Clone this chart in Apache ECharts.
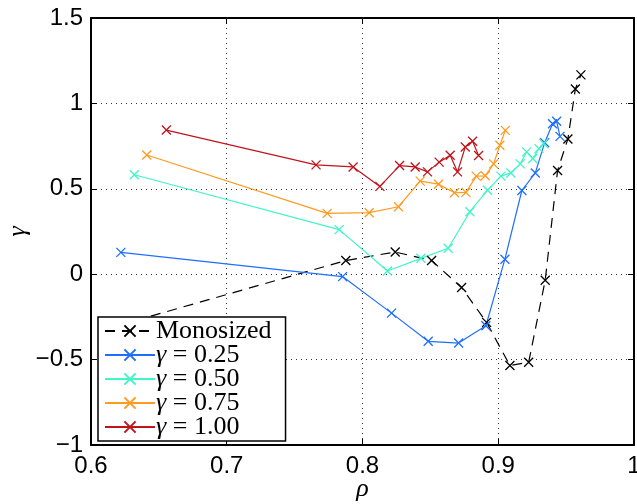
<!DOCTYPE html>
<html>
<head>
<meta charset="utf-8">
<title>γ versus ρ</title>
<script src="https://cdn.jsdelivr.net/npm/echarts@6/dist/echarts.min.js"></script>
<style>
  html, body { margin: 0; padding: 0; background: #fff; }
  #chart { width: 637px; height: 504px; }
</style>
</head>
<body>
<div id="chart"></div>
<script>
// Packing fraction rho (x) against gamma (y) for each run
const seriesNames = ['Monosized', 'γ = 0.25', 'γ = 0.50', 'γ = 0.75', 'γ = 1.00'];
const seriesColors = ['#000000', '#1e6eff', '#40f5c8', '#ff9a20', '#c0141c'];

const monosized = [
  [0.620, -0.300], [0.7877, 0.080], [0.8241, 0.130], [0.8509, 0.080],
  [0.8730, -0.078], [0.8914, -0.282], [0.9086, -0.535], [0.9224, -0.516],
  [0.9346, -0.035], [0.9437, 0.607], [0.9513, 0.792], [0.9568, 1.084],
  [0.9609, 1.167]
];
const gamma025 = [
  [0.6220, 0.128], [0.7853, -0.014], [0.8214, -0.228], [0.8484, -0.393],
  [0.8708, -0.403], [0.8909, -0.302], [0.9049, 0.088], [0.9174, 0.490],
  [0.9273, 0.593], [0.9342, 0.770], [0.9400, 0.881], [0.9430, 0.895],
  [0.9455, 0.807]
];
const gamma050 = [
  [0.6319, 0.582], [0.7828, 0.261], [0.8184, 0.019], [0.8430, 0.093],
  [0.8631, 0.152], [0.8791, 0.366], [0.8921, 0.492], [0.9020, 0.574],
  [0.9093, 0.593], [0.9162, 0.646], [0.9209, 0.716], [0.9254, 0.677],
  [0.9300, 0.735], [0.9335, 0.765]
];
const gamma075 = [
  [0.6411, 0.698], [0.7740, 0.356], [0.8049, 0.360], [0.8265, 0.395],
  [0.8425, 0.545], [0.8560, 0.527], [0.8678, 0.477], [0.8762, 0.479],
  [0.8838, 0.574], [0.8904, 0.576], [0.8966, 0.646], [0.9012, 0.755],
  [0.9052, 0.842]
];
const gamma100 = [
  [0.6555, 0.844], [0.7658, 0.640], [0.7931, 0.628], [0.8128, 0.514],
  [0.8273, 0.636], [0.8388, 0.628], [0.8479, 0.599], [0.8565, 0.656],
  [0.8646, 0.696], [0.8700, 0.599], [0.8757, 0.745], [0.8811, 0.778],
  [0.8855, 0.695]
];

// Axis ticks
const xTickLabels = ['0.6', '0.7', '0.8', '0.9', '1'];
const yTickLabels = ['−1', '−0.5', '0', '0.5', '1', '1.5'];
const xMin = 0.6, xMax = 1.0, xStep = 0.1;
const yMin = -1, yMax = 1.5, yStep = 0.5;

const allData = [monosized, gamma025, gamma050, gamma075, gamma100];

const crossSymbol = 'path://M0,0L10,10M10,0L0,10';
const tickFont = { fontFamily: 'Liberation Sans, Arial, sans-serif', fontSize: 24, color: '#000' };
const serif = 'Liberation Serif, DejaVu Serif, serif';

function tickFormatter(labels, min, step) {
  return function (v) {
    const i = Math.round((v - min) / step);
    return labels[i] !== undefined ? labels[i] : '';
  };
}

const boxLine = { show: true, onZero: false, lineStyle: { color: '#000', width: 2 } };
const inTick = { show: true, inside: true, length: 6, lineStyle: { color: '#000', width: 1 } };
const dotted = { show: true, lineStyle: { color: '#333', width: 1, type: [1, 4] } };

const series = allData.map(function (d, i) {
  return {
    name: seriesNames[i],
    type: 'line',
    data: d,
    symbol: crossSymbol,
    symbolSize: 9,
    showSymbol: true,
    z: 2,
    lineStyle: {
      color: seriesColors[i],
      width: 1.2,
      type: i === 0 ? [10, 7] : 'solid'
    },
    itemStyle: {
      color: seriesColors[i],
      borderColor: seriesColors[i],
      borderWidth: 1.3
    },
    emphasis: { disabled: true },
    animation: false
  };
});

const chart = echarts.init(document.getElementById('chart'), null, { renderer: 'canvas' });
chart.setOption({
  backgroundColor: '#fff',
  animation: false,
  grid: { left: 91, right: 3, top: 18, bottom: 59, containLabel: false, outerBoundsMode: 'none' },
  xAxis: [
    {
      type: 'value', min: xMin, max: xMax, interval: xStep, position: 'bottom',
      axisLine: boxLine, axisTick: inTick, splitLine: dotted,
      axisLabel: Object.assign({ margin: 9, formatter: tickFormatter(xTickLabels, xMin, xStep) }, tickFont),
      name: 'ρ', nameLocation: 'middle', nameGap: 31, nameMoveOverlap: false,
      nameTextStyle: { fontFamily: serif, fontStyle: 'italic', fontSize: 26, color: '#000' }
    },
    {
      type: 'value', min: xMin, max: xMax, interval: xStep, position: 'top',
      axisLine: boxLine, axisTick: inTick, splitLine: { show: false }, axisLabel: { show: false }
    }
  ],
  yAxis: [
    {
      type: 'value', min: yMin, max: yMax, interval: yStep, position: 'left',
      axisLine: boxLine, axisTick: inTick, splitLine: dotted,
      axisLabel: Object.assign({ margin: 8, formatter: tickFormatter(yTickLabels, yMin, yStep) }, tickFont),
      name: 'γ', nameLocation: 'middle', nameGap: 60, nameRotate: 90, nameMoveOverlap: false,
      nameTextStyle: { fontFamily: serif, fontStyle: 'italic', fontSize: 26, color: '#000' }
    },
    {
      type: 'value', min: yMin, max: yMax, interval: yStep, position: 'right',
      axisLine: boxLine, axisTick: inTick, splitLine: { show: false }, axisLabel: { show: false }
    }
  ],
  legend: {
    orient: 'vertical',
    left: 98, top: 317,
    z: 10,
    itemWidth: 50, itemHeight: 14, itemGap: -2,
    padding: [1, 14, 1, 6],
    backgroundColor: '#fff',
    borderColor: '#000', borderWidth: 1.5,
    data: seriesNames,
    selectedMode: false,
    formatter: function (name) {
      if (name.indexOf('γ') === 0) {
        return '{g|γ}' + name.slice(1);
      }
      return name;
    },
    textStyle: {
      fontFamily: serif, fontSize: 26, color: '#000', lineHeight: 21, padding: [0, 0, 0, -4],
      rich: { g: { fontFamily: serif, fontStyle: 'italic', fontSize: 26, lineHeight: 21 } }
    }
  },
  series: series
});
</script>
</body>
</html>
